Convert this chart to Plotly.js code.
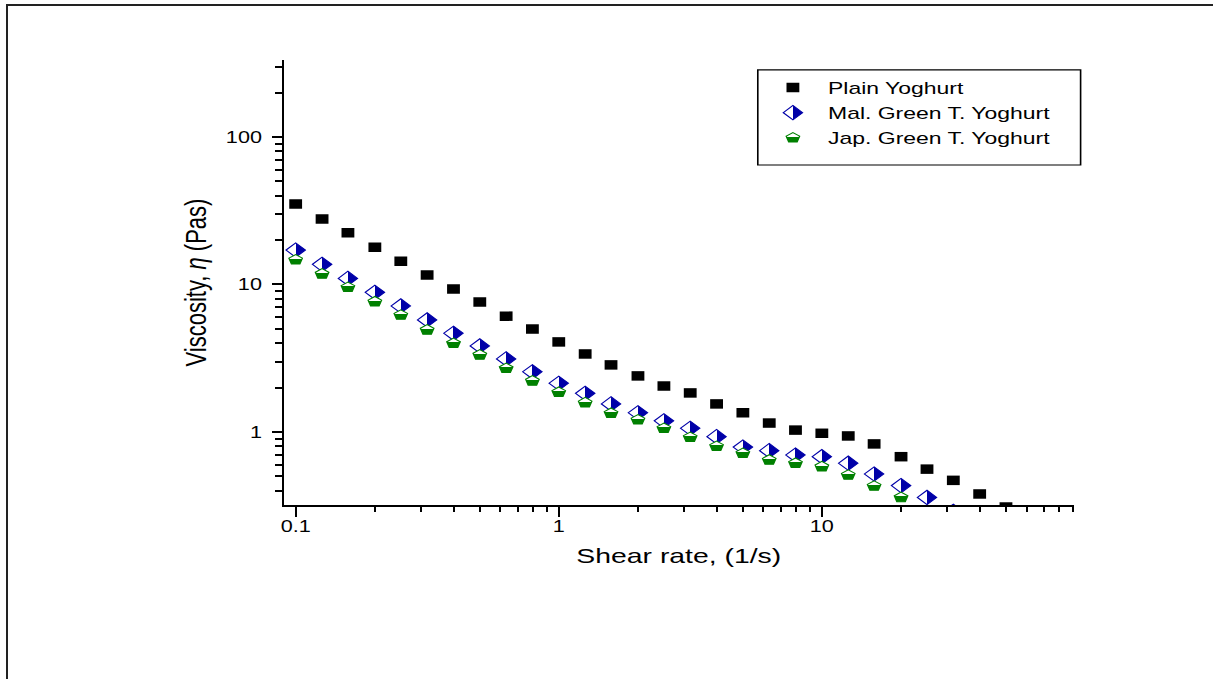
<!DOCTYPE html>
<html>
<head>
<meta charset="utf-8">
<script src="https://cdn.plot.ly/plotly-3.0.1.min.js"></script>
<style>
html, body { margin:0; padding:0; background:#fff; overflow:hidden; width:1213px; height:679px; }
#plot { position:absolute; left:0; top:0; width:898px; height:679px; transform:scaleX(1.3508); transform-origin:0 0; }
#frame { position:absolute; left:6px; top:4px; width:1300px; height:800px; border-top:2px solid #222; border-left:2px solid #222; pointer-events:none; }
</style>
</head>
<body>
<div id="plot"></div>
<div id="frame"></div>
<script>
// ---- data ----
const shearRate = [0.1, 0.126, 0.158, 0.2, 0.251, 0.316, 0.398, 0.501, 0.631, 0.794,
                   1, 1.26, 1.58, 2, 2.51, 3.16, 3.98, 5.01, 6.31, 7.94,
                   10, 12.6, 15.8, 20, 25.1, 31.6, 39.8, 50.1];
const plainYoghurt = [35.1, 27.8, 22.4, 17.9, 14.4, 11.6, 9.32, 7.6, 6.1, 4.99,
                      4.08, 3.38, 2.85, 2.40, 2.05, 1.84, 1.55, 1.35, 1.15, 1.03,
                      0.98, 0.94, 0.83, 0.68, 0.56, 0.47, 0.38, 0.31];
const malGreenTea = [17.1, 13.7, 11.0, 8.85, 7.15, 5.75, 4.67, 3.83, 3.13, 2.56,
                     2.14, 1.83, 1.55, 1.35, 1.19, 1.06, 0.93, 0.79, 0.747, 0.698,
                     0.68, 0.614, 0.519, 0.433, 0.36, 0.29];
const japGreenTea = [14.7, 11.8, 9.57, 7.64, 6.21, 4.92, 3.99, 3.33, 2.70, 2.22,
                     1.86, 1.58, 1.34, 1.21, 1.06, 0.92, 0.80, 0.717, 0.646, 0.614,
                     0.582, 0.511, 0.43, 0.36];
const seriesNames = ['Plain Yoghurt', 'Mal. Green T. Yoghurt', 'Jap. Green T. Yoghurt'];
const xTickVals = [0.1, 1, 10];
const xTickText = ['0.1', '1', '10'];
const yTickVals = [1, 10, 100];
const yTickText = ['1', '10', '100'];

const BLUE = 'rgb(0,0,168)';
const GREEN = 'rgb(0,128,0)';
const FONT = 'Arial, "Liberation Sans", sans-serif';

const traces = [
  { x: shearRate.slice(0, plainYoghurt.length), y: plainYoghurt, name: seriesNames[0],
    type: 'scatter', mode: 'markers',
    marker: { symbol: 'square', size: 9.5, color: '#000' } },
  { x: shearRate.slice(0, malGreenTea.length), y: malGreenTea, name: seriesNames[1],
    type: 'scatter', mode: 'markers',
    marker: { symbol: 'diamond', size: 11, color: '#ffffff',
              line: { color: BLUE, width: 1 },
              gradient: { type: 'horizontal', color: BLUE } } },
  { x: shearRate.slice(0, japGreenTea.length), y: japGreenTea, name: seriesNames[2],
    type: 'scatter', mode: 'markers',
    marker: { symbol: 'pentagon', size: 10.5, color: '#ffffff',
              line: { color: GREEN, width: 1 },
              gradient: { type: 'vertical', color: GREEN } } }
];

const layout = {
  width: 898, height: 679,
  margin: { l: 210, r: 103, t: 60, b: 174 },
  paper_bgcolor: '#fff', plot_bgcolor: '#fff',
  font: { family: FONT, color: '#000' },
  showlegend: true,
  legend: { x: 0.6, y: 0.9775, xanchor: 'left', yanchor: 'top',
            bgcolor: 'rgba(0,0,0,0)', borderwidth: 0, itemwidth: 42,
            font: { family: FONT, size: 17, color: '#000' } },
  shapes: [{ type: 'rect', xref: 'paper', yref: 'paper',
             x0: 0.6, x1: 1.0085, y0: 0.764, y1: 0.978,
             line: { color: '#000', width: 1.2 }, fillcolor: 'rgba(0,0,0,0)' }],
  xaxis: {
    type: 'log', range: [-1.0456, 1.958], automargin: false,
    tickmode: 'array', tickvals: xTickVals, ticktext: xTickText,
    showline: true, linecolor: '#000', linewidth: 2, mirror: false,
    showgrid: false, zeroline: false,
    ticks: 'outside', ticklen: 10, tickwidth: 1.5, tickcolor: '#000',
    ticklabelstandoff: -4,
    minor: { ticks: 'outside', ticklen: 5, tickwidth: 1.5, tickcolor: '#000', dtick: 'D1', showgrid: false },
    tickfont: { family: FONT, size: 16, color: '#000' },
    title: { text: 'Shear rate, (1/s)', font: { family: FONT, size: 21, color: '#000' }, standoff: 14 }
  },
  yaxis: {
    type: 'log', range: [-0.495, 2.522], automargin: false,
    tickmode: 'array', tickvals: yTickVals, ticktext: yTickText,
    showline: true, linecolor: '#000', linewidth: 1.5, mirror: false,
    showgrid: false, zeroline: false,
    ticks: 'outside', ticklen: 7.4, tickwidth: 2, tickcolor: '#000',
    ticklabelstandoff: 4,
    minor: { ticks: 'outside', ticklen: 5, tickwidth: 2, tickcolor: '#000', dtick: 'D1', showgrid: false },
    tickfont: { family: FONT, size: 16, color: '#000' },
    title: { text: 'Viscosity, <i>η</i> (Pas)', font: { family: FONT, size: 22, color: '#000' }, standoff: 8 }
  }
};

const NS = 'http://www.w3.org/2000/svg';
function setStops(g, stops) {
  while (g.firstChild) g.removeChild(g.firstChild);
  stops.forEach(function (s) {
    const st = document.createElementNS(NS, 'stop');
    st.setAttribute('offset', s[0]);
    st.setAttribute('stop-color', s[1]);
    st.setAttribute('stop-opacity', '1');
    g.appendChild(st);
  });
}
// turn the smooth marker gradients into sharp half fills (style only)
function splitFills() {
  document.querySelectorAll('#plot linearGradient').forEach(function (g) {
    let colors = '';
    g.querySelectorAll('stop').forEach(function (s) {
      colors += (s.getAttribute('stop-color') || '') + '|' + (s.style.stopColor || '') + '|';
    });
    colors = colors.replace(/\s/g, '');
    let isGreen = colors.indexOf('0,128,0') >= 0;
    let isBlue = colors.indexOf('0,0,168') >= 0;
    if (!isGreen && !isBlue) {
      isGreen = g.getAttribute('x1') === g.getAttribute('x2');
      isBlue = !isGreen;
    }
    if (isGreen) {
      g.setAttribute('x1', '0'); g.setAttribute('x2', '0');
      g.setAttribute('y1', '0'); g.setAttribute('y2', '1');
      setStops(g, [['0', '#ffffff'], ['0.45', '#ffffff'], ['0.45', GREEN], ['1', GREEN]]);
    } else if (isBlue) {
      g.setAttribute('x1', '0'); g.setAttribute('x2', '1');
      g.setAttribute('y1', '0'); g.setAttribute('y2', '0');
      setStops(g, [['0', '#ffffff'], ['0.5', '#ffffff'], ['0.5', BLUE], ['1', BLUE]]);
    }
  });
}

Plotly.newPlot('plot', traces, layout, { displayModeBar: false, staticPlot: true }).then(function (gd) {
  splitFills();
  gd.on && gd.on('plotly_afterplot', splitFills);
});
</script>
</body>
</html>
